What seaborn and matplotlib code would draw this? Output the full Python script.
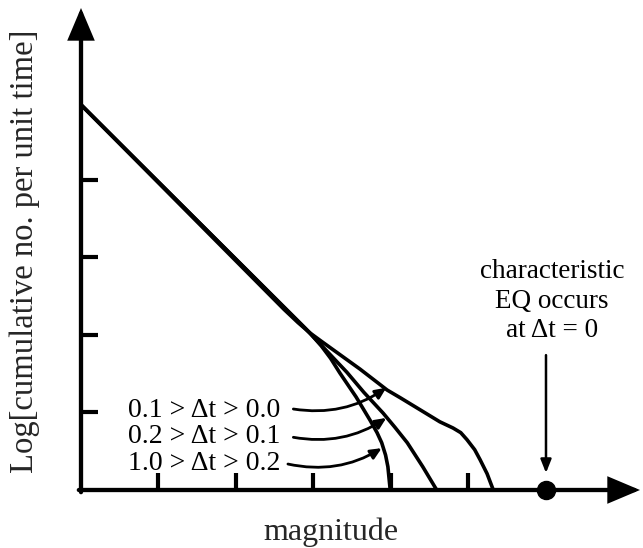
import matplotlib
matplotlib.use("Agg")
import matplotlib.pyplot as plt
import seaborn as sns
import pandas as pd

# ---- data (axis units = tick spacing) ----
outer_x = [0.0, 2.62, 2.80, 2.95, 3.10, 3.35, 3.60, 3.95, 4.12, 4.40, 4.63, 4.80, 4.90, 4.98, 5.08, 5.15, 5.24, 5.32]
outer_y = [4.97, 2.33, 2.16, 2.03, 1.92, 1.74, 1.56, 1.29, 1.19, 1.02, 0.88, 0.80, 0.74, 0.65, 0.52, 0.39, 0.21, 0.0]
middle_x = [0.0, 2.90, 3.08, 3.25, 3.43, 3.65, 3.90, 4.05, 4.21, 4.41, 4.59]
middle_y = [4.97, 2.08, 1.89, 1.71, 1.52, 1.26, 0.99, 0.81, 0.61, 0.30, 0.0]
inner_x = [0.0, 2.95, 3.10, 3.22, 3.34, 3.55, 3.73, 3.82, 3.88, 3.93, 3.96, 3.99]
inner_y = [4.97, 2.03, 1.86, 1.70, 1.51, 1.20, 0.90, 0.74, 0.61, 0.45, 0.30, 0.0]

x_ticks = [1, 2, 3, 4, 5]
y_ticks = [1, 2, 3, 4]
x_max = 7.213
y_max = 6.219

labels = ["0.1 > \u0394t > 0.0", "0.2 > \u0394t > 0.1", "1.0 > \u0394t > 0.2"]
label_y = [0.94, 0.61, 0.26]
arrow_start = [(2.74, 1.045), (2.74, 0.68), (2.67, 0.335)]
arrow_end = [(3.94, 1.32), (3.94, 0.93), (3.88, 0.54)]

char_eq_x = 6.0
char_text = ["characteristic", "EQ occurs", "at \u0394t = 0"]
char_text_y = [2.735, 2.35, 1.97]

frames = []
for name, xs, ys in [("outer", outer_x, outer_y), ("middle", middle_x, middle_y), ("inner", inner_x, inner_y)]:
    frames.append(pd.DataFrame({"magnitude": xs, "logN": ys, "curve": name}))
df = pd.concat(frames, ignore_index=True)

sns.set_theme(style="white")
plt.rcParams["font.family"] = ["Liberation Serif", "DejaVu Serif"]

fig = plt.figure(figsize=(6.43, 5.48), dpi=100)
ax = fig.add_axes([81 / 643, 1 - 490 / 548, (640 - 81) / 643, (490 - 8) / 548])
ax.set_xlim(0, x_max)
ax.set_ylim(0, y_max)

for name in ["outer", "middle", "inner"]:
    sub = df[df["curve"] == name]
    sns.lineplot(data=sub, x="magnitude", y="logN", sort=False, estimator=None,
                 color="black", lw=2.6, ax=ax, clip_on=False)
for line in ax.get_lines():
    line.set_solid_joinstyle("round")

for s in ax.spines.values():
    s.set_visible(False)
ax.set_xticks(x_ticks)
ax.set_yticks(y_ticks)
ax.tick_params(direction="in", length=12.5, width=3, color="black",
               labelbottom=False, labelleft=False, bottom=True, left=True)
ax.set_xlabel("")
ax.set_ylabel("")

# axes with arrow heads
axis_style = "-|>,head_length=0.9,head_width=0.38"
ax.annotate("", xy=(x_max, 0), xytext=(-0.028, 0),
            arrowprops=dict(arrowstyle=axis_style, lw=3.1, color="black",
                            mutation_scale=20, shrinkA=0, shrinkB=0, joinstyle="miter"),
            annotation_clip=False)
ax.annotate("", xy=(0, y_max), xytext=(0, -0.028),
            arrowprops=dict(arrowstyle=axis_style, lw=3.1, color="black",
                            mutation_scale=20, shrinkA=0, shrinkB=0, joinstyle="miter"),
            annotation_clip=False)

# labels with curved arrows
for lab, ly, st, en in zip(labels, label_y, arrow_start, arrow_end):
    ax.text(2.57, ly, lab, ha="right", va="baseline", fontsize=20, color="black")
    ax.annotate("", xy=en, xytext=st,
                arrowprops=dict(arrowstyle="-|>,head_length=0.33,head_width=0.15", lw=2.0,
                                color="black", mutation_scale=20, shrinkA=0, shrinkB=0,
                                connectionstyle="arc3,rad=0.2"),
                annotation_clip=False)

# characteristic earthquake
for t, ty in zip(char_text, char_text_y):
    ax.text(char_eq_x + 0.08, ty, t, ha="center", va="baseline", fontsize=19.5, color="black")
ax.annotate("", xy=(char_eq_x, 0.22), xytext=(char_eq_x, 1.74),
            arrowprops=dict(arrowstyle="-|>,head_length=0.4,head_width=0.16", lw=1.8,
                            color="black", mutation_scale=20, shrinkA=0, shrinkB=0),
            annotation_clip=False)
ax.plot([char_eq_x], [0], "o", color="black", markersize=13, clip_on=False, zorder=5)

fig.text(331 / 643, 1 - 540 / 548, "magnitude", ha="center", va="baseline", fontsize=23)
fig.text(25 / 643, 1 - 251 / 548, "Log[cumulative no. per unit time]", ha="center", va="center",
         rotation=90, fontsize=23.5)

fig.savefig("out.png", dpi=100)
